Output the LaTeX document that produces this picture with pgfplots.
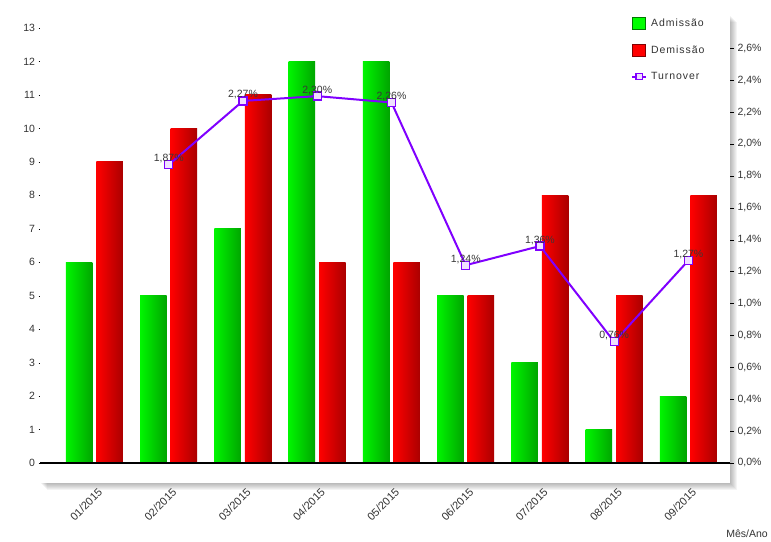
\documentclass[border=0pt]{standalone}
\usepackage{pgfplots}
\usepackage{pgfplotstable}
\pgfplotsset{compat=1.18}
\usepackage{fontspec}
\setmainfont{Liberation Sans}
\definecolor{gA}{RGB}{0,245,0}
\definecolor{gB}{RGB}{0,165,0}
\definecolor{gE}{RGB}{0,120,0}
\definecolor{rA}{RGB}{255,0,0}
\definecolor{rB}{RGB}{170,0,0}
\definecolor{rE}{RGB}{130,0,0}
\definecolor{purp}{RGB}{128,0,255}
\definecolor{txt}{RGB}{51,51,51}
\newcommand{\tf}{\fontsize{10.5}{12}\selectfont}
\pgfplotsset{turnover legend/.style={legend image code/.code={\draw[##1, mark repeat=2, mark phase=2, mark size=3.2pt] plot coordinates {(0pt,0pt) (7pt,0pt) (14pt,0pt)};}},
  sq legend/.style={legend image code/.code={\draw[##1] (0pt,-6pt) rectangle (13pt,6pt);}}}
\pgfplotstableread{
x adm dem
0 6 9
1 5 10
2 7 11
3 12 6
4 12 6
5 5 5
6 3 8
7 1 5
8 2 8
}\datatab
\begin{document}
\begin{tikzpicture}[x=1pt,y=1pt]
\useasboundingbox (0,0) rectangle (771,541);
\foreach \i in {1,...,7} {\fill[black,opacity=0.045] ({40+\i},{58-\i}) rectangle ({730+\i},{526-\i});}
\fill[white] (40,58) rectangle (730,531);
\begin{axis}[at={(40pt,58pt)}, anchor=south west, scale only axis,
  width=690pt, height=473pt,
  xmin=-0.734, xmax=8.56, ymin=-0.598, ymax=13.54,
  axis line style={draw=none},
  xtick={0,...,8},
  xticklabels={01/2015,02/2015,03/2015,04/2015,05/2015,06/2015,07/2015,08/2015,09/2015},
  xtick style={draw=none},
  xticklabel style={rotate=45, anchor=north east, font=\fontsize{11}{12}\selectfont, text=txt, inner sep=2pt, yshift=-2pt, xshift=2pt},
  ytick={0,1,...,13}, ytick pos=left, tick align=outside, major tick length=1.5pt,
  ytick style={black},
  yticklabel style={font=\tf, text=txt},
  /pgf/number format/assume math mode=true,
]
\pgfplotsinvokeforeach{0,...,8}{
\addplot[ybar, bar width=26.5pt, bar shift=-15.25pt, draw=none, left color=gA, right color=gB,
  restrict expr to domain={\coordindex}{#1:#1}] table[x=x, y=adm] {\datatab};
\addplot[ybar, bar width=26.5pt, bar shift=15.25pt, draw=none, left color=rA, right color=rB,
  restrict expr to domain={\coordindex}{#1:#1}] table[x=x, y=dem] {\datatab};
}
\draw[black, line width=1.3pt] ({rel axis cs:0,0}|-{axis cs:0,0}) -- ({rel axis cs:1,0}|-{axis cs:0,0});
\end{axis}
\begin{axis}[at={(40pt,58pt)}, anchor=south west, scale only axis,
  width=690pt, height=473pt,
  xmin=-0.734, xmax=8.56, ymin=-0.1254, ymax=2.840,
  axis x line=none, axis y line*=right,
  y axis line style={draw=none},
  ytick={0,0.2,0.4,0.6,0.8,1.0,1.2,1.4,1.6,1.8,2.0,2.2,2.4,2.6},
  yticklabel={\pgfmathprintnumber[fixed,fixed zerofill,precision=1,use comma]{\tick}\%},
  tick align=outside, major tick length=4pt, ytick style={black},
  yticklabel style={font=\tf, text=txt},
  /pgf/number format/assume math mode=true,
  legend style={at={(0.852,0.990)}, anchor=north west, draw=none, fill=none,
    row sep=13.5pt, font=\tf\addfontfeature{LetterSpace=9}, text=txt,
    nodes={inner xsep=4pt}},
  legend cell align=left,
]
\addlegendimage{sq legend, fill=green, draw=gE}
\addlegendentry{Admissão}
\addlegendimage{sq legend, fill=red, draw=rE}
\addlegendentry{Demissão}
\addplot[purp, line width=2pt, mark=square*, mark size=4pt,
  mark options={fill=purp!12, line width=1.3pt},
  point meta=y,
  nodes near coords={\pgfmathprintnumber[fixed,fixed zerofill,precision=2,use comma]{\pgfplotspointmeta}\%},
  every node near coord/.append style={anchor=center, yshift=6pt, font=\tf, text=black!78},
  turnover legend]
  coordinates {(1,1.87) (2,2.27) (3,2.30) (4,2.26) (5,1.24) (6,1.36) (7,0.76) (8,1.27)};
\addlegendentry{Turnover}
\end{axis}
\node[anchor=south east, text=txt, font=\tf, inner sep=0pt] at (768,3) {Mês/Ano};
\end{tikzpicture}
\end{document}
